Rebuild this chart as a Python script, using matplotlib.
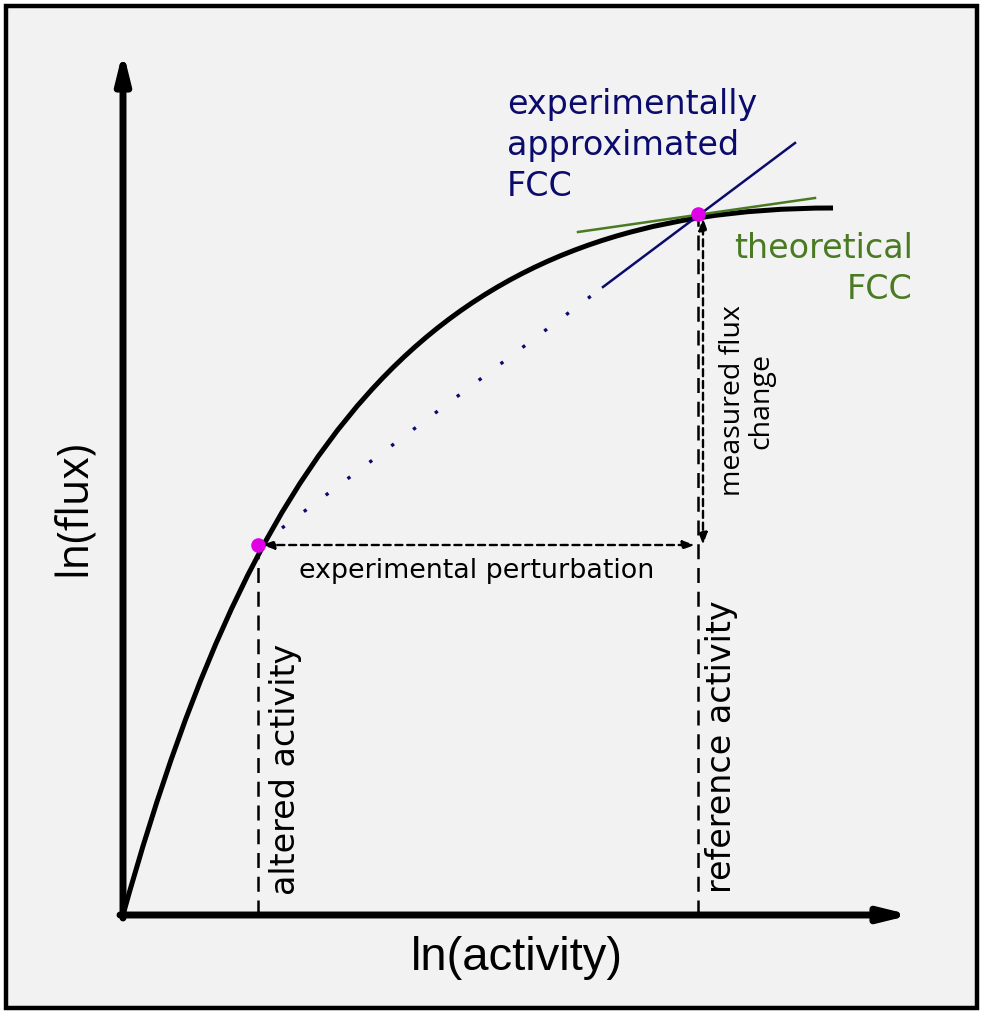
import matplotlib
matplotlib.use("Agg")
import matplotlib.pyplot as plt
from matplotlib.path import Path
from matplotlib.patches import PathPatch, Rectangle

# diagram coordinates: origin at the axes corner, y up (roughly pixel units)
curve_x = [0, 140, 330, 710]      # cubic bezier control points of ln(flux) curve
curve_y = [0, 504, 707, 707]

altered = (135, 370)
reference = (575, 701)

exp_tangent_x = [480, 672]
exp_tangent_y = [628, 772]
exp_dotted_x = [159, 480]
exp_dotted_y = [387, 628]

theo_tangent_x = [455, 692]
theo_tangent_y = [683, 717]

navy = "#0b0b6e"
green = "#4a7a22"
magenta = "#e000e8"

fig = plt.figure(figsize=(9.85, 10.15), dpi=100)
fig.patch.set_facecolor("white")
ax = fig.add_axes([0, 0, 1, 1])
ax.set_xlim(-123, 862)
ax.set_ylim(-100, 915)
ax.axis("off")

ax.add_patch(Rectangle((-117, -93), 971, 1002, facecolor="#f2f2f2",
                       edgecolor="black", lw=3.2, zorder=0))

# axes arrows
ax.annotate("", xy=(0, 864), xytext=(0, -3),
            arrowprops=dict(arrowstyle="-|>,head_length=1.7,head_width=0.42",
                            lw=5, color="black", shrinkA=0, shrinkB=0))
ax.annotate("", xy=(788, 0), xytext=(-3, 0),
            arrowprops=dict(arrowstyle="-|>,head_length=1.7,head_width=0.42",
                            lw=5, color="black", shrinkA=0, shrinkB=0))

# flux curve
verts = list(zip(curve_x, curve_y))
path = Path(verts, [Path.MOVETO, Path.CURVE4, Path.CURVE4, Path.CURVE4])
ax.add_patch(PathPatch(path, facecolor="none", edgecolor="black", lw=3.6,
                       capstyle="butt", zorder=3))

# guide lines
ax.plot([altered[0], altered[0]], [0, altered[1]], color="black", lw=1.8,
        dashes=(6, 3.5), zorder=2)
ax.plot([reference[0], reference[0]], [0, reference[1]], color="black", lw=1.8,
        dashes=(6, 3.5), zorder=2)

ax.annotate("", xy=(reference[0] - 3, altered[1]), xytext=(altered[0] + 4, altered[1]),
            arrowprops=dict(arrowstyle="<|-|>,head_length=0.7,head_width=0.25",
                            lw=1.7, ls=(0, (3, 2)), color="black",
                            shrinkA=0, shrinkB=0))
ax.annotate("", xy=(reference[0] + 5, reference[1] - 4), xytext=(reference[0] + 5, altered[1]),
            arrowprops=dict(arrowstyle="<|-|>,head_length=0.7,head_width=0.25",
                            lw=1.7, ls=(0, (3, 2)), color="black",
                            shrinkA=0, shrinkB=0))

# tangents
ax.plot(exp_tangent_x, exp_tangent_y, color=navy, lw=1.8, zorder=4)
ax.plot(exp_dotted_x, exp_dotted_y, color=navy, lw=2.4, dashes=(1, 7.2), zorder=4)
ax.plot(theo_tangent_x, theo_tangent_y, color=green, lw=1.8, zorder=4)

ax.plot([altered[0], reference[0]], [altered[1], reference[1]], "o", color=magenta,
        ms=10.5, mec="none", zorder=5)

# text
ax.text(384, 827, "experimentally\napproximated\nFCC", color=navy, fontsize=24,
        family="DejaVu Sans", ha="left", va="top", linespacing=1.3)
ax.text(790, 683, "theoretical\nFCC", color=green, fontsize=24,
        family="DejaVu Sans", ha="right", va="top", linespacing=1.3)
ax.text(354, 344, "experimental perturbation", color="black", fontsize=19.4,
        family="DejaVu Sans", ha="center", va="center")
ax.text(624, 514, "measured flux\nchange", color="black", fontsize=20.5,
        family=["Open Sans", "DejaVu Sans"], rotation=90, ha="center", va="center",
        linespacing=1.0)
ax.text(162, 20, "altered activity", color="black", fontsize=24,
        family="DejaVu Sans", rotation=90, ha="center", va="bottom")
ax.text(599, 22, "reference activity", color="black", fontsize=24,
        family="DejaVu Sans", rotation=90, ha="center", va="bottom")
ax.text(-48, 407, "ln(flux)", color="black", fontsize=31,
        family=["Open Sans", "DejaVu Sans"], rotation=90, ha="center", va="center")
ax.text(394, -43, "ln(activity)", color="black", fontsize=34,
        family=["Liberation Sans", "DejaVu Sans"], ha="center", va="center")

fig.savefig("out.png", dpi=100)
